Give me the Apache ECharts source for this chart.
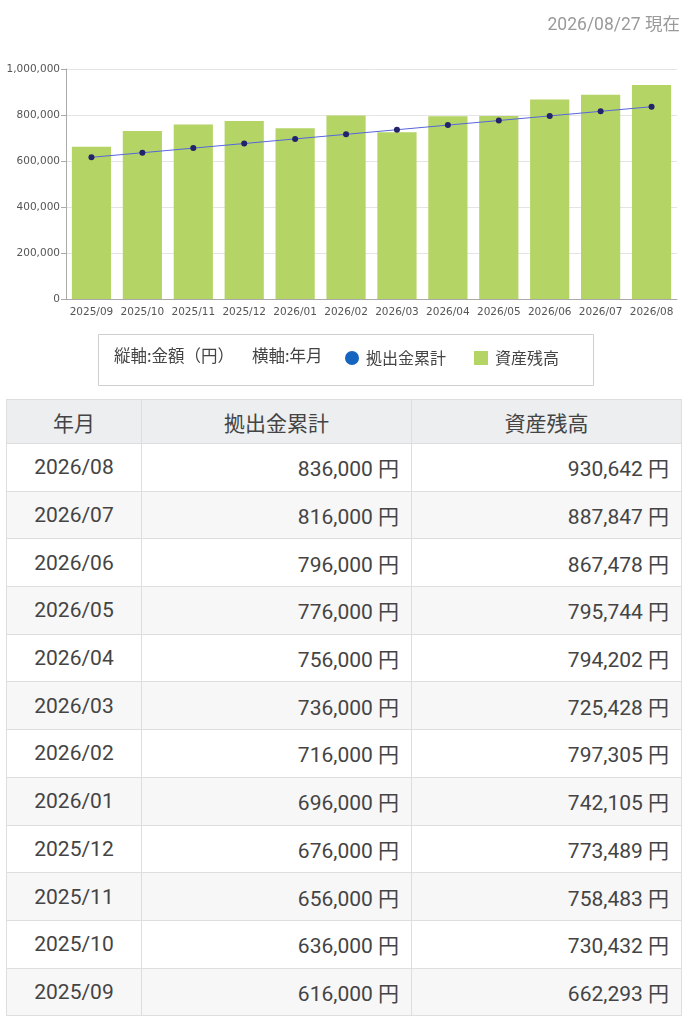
<!DOCTYPE html>
<html>
<head>
<meta charset="utf-8">
<script src="https://cdn.jsdelivr.net/npm/echarts@6/dist/echarts.min.js"></script>
<style>
  body { margin: 0; background: #fff; width: 688px; font-family: Roboto, "Noto Sans CJK JP", sans-serif; }
  #chart { width: 688px; height: 392px; }
  table { position: absolute; left: 6px; top: 399px; width: 675px; border-collapse: collapse; table-layout: fixed; color: #444; }
  th, td { border: 1px solid #dedede; height: 46.7px; padding: 0 12px; font-size: 21px; font-weight: normal; }
  th { background: #edeef0; text-align: center; height: 43px; }
  td.m { text-align: center; }
  td.n { text-align: right; }
  tr:nth-child(odd) td { background: #f7f7f7; }
</style>
</head>
<body>
<div id="chart"></div>
<table id="tbl">
  <colgroup><col style="width:135px"><col style="width:270px"><col style="width:270px"></colgroup>
  <tbody id="body"></tbody>
</table>
<script>
// data
var months = ['2025/09','2025/10','2025/11','2025/12','2026/01','2026/02','2026/03','2026/04','2026/05','2026/06','2026/07','2026/08'];
var contrib = [616000, 636000, 656000, 676000, 696000, 716000, 736000, 756000, 776000, 796000, 816000, 836000];
var balance = [662293, 730432, 758483, 773489, 742105, 797305, 725428, 794202, 795744, 867478, 887847, 930642];
var headers = ['年月', '拠出金累計', '資産残高'];

function fmt(v) { return v.toString().replace(/\B(?=(\d{3})+(?!\d))/g, ','); }

var cjk = '"Noto Sans CJK JP"';
var chart = echarts.init(document.getElementById('chart'));
chart.setOption({
  animation: false,
  title: {
    text: '2026/08/27 現在', right: 3, top: 12,
    textStyle: { color: '#9a9a9a', fontSize: 17.5, fontWeight: 'normal', fontFamily: 'Roboto, "Noto Sans CJK JP"' }
  },
  grid: { left: 66, right: 11, top: 69, bottom: 93 },
  xAxis: {
    type: 'category', data: months,
    axisLine: { lineStyle: { color: '#aaa' } },
    axisTick: { show: false },
    axisLabel: { color: '#555', fontSize: 10.5, fontFamily: 'DejaVu Sans', margin: 8, interval: 0 }
  },
  yAxis: {
    type: 'value', min: 0, max: 1000000, interval: 200000,
    axisLine: { show: true, lineStyle: { color: '#aaa' } },
    axisTick: { show: true, length: 5, lineStyle: { color: '#aaa' } },
    splitLine: { lineStyle: { color: '#e4e4e4' } },
    axisLabel: { color: '#555', fontSize: 10.5, fontFamily: 'DejaVu Sans', margin: 6, formatter: fmt }
  },
  legend: {
    left: 345, top: 350, padding: 0, itemGap: 28, itemWidth: 14, itemHeight: 14,
    textStyle: { color: '#444', fontSize: 16, fontFamily: cjk, padding: [0, 0, 0, 2] },
    data: [
      { name: '拠出金累計', icon: 'circle', itemStyle: { color: '#1565c0' } },
      { name: '資産残高', icon: 'rect', itemStyle: { color: '#b4d465' } }
    ]
  },
  graphic: [
    { type: 'rect', left: 96, top: 332, shape: { width: 495, height: 51 },
      style: { fill: 'none', stroke: '#cfcfcf', lineWidth: 1 } },
    { type: 'text', left: 114, top: 347,
      style: { text: '縦軸:金額（円）', fill: '#444', fontSize: 16.5, fontFamily: cjk } },
    { type: 'text', left: 252, top: 347,
      style: { text: '横軸:年月', fill: '#444', fontSize: 16.5, fontFamily: cjk } }
  ],
  series: [
    { name: '資産残高', type: 'bar', data: balance, barWidth: '77%', itemStyle: { color: '#b4d465' }, z: 1 },
    { name: '拠出金累計', type: 'line', data: contrib, symbol: 'circle', symbolSize: 6,
      lineStyle: { color: '#5566dd', width: 1 }, itemStyle: { color: '#23236b' }, z: 3 }
  ]
});

// table
var html = '<tr>' + headers.map(function (h) { return '<th>' + h + '</th>'; }).join('') + '</tr>';
for (var i = months.length - 1; i >= 0; i--) {
  html += '<tr><td class="m">' + months[i] + '</td><td class="n">' + fmt(contrib[i]) + ' 円</td><td class="n">' + fmt(balance[i]) + ' 円</td></tr>';
}
document.getElementById('body').innerHTML = html;
</script>
</body>
</html>
